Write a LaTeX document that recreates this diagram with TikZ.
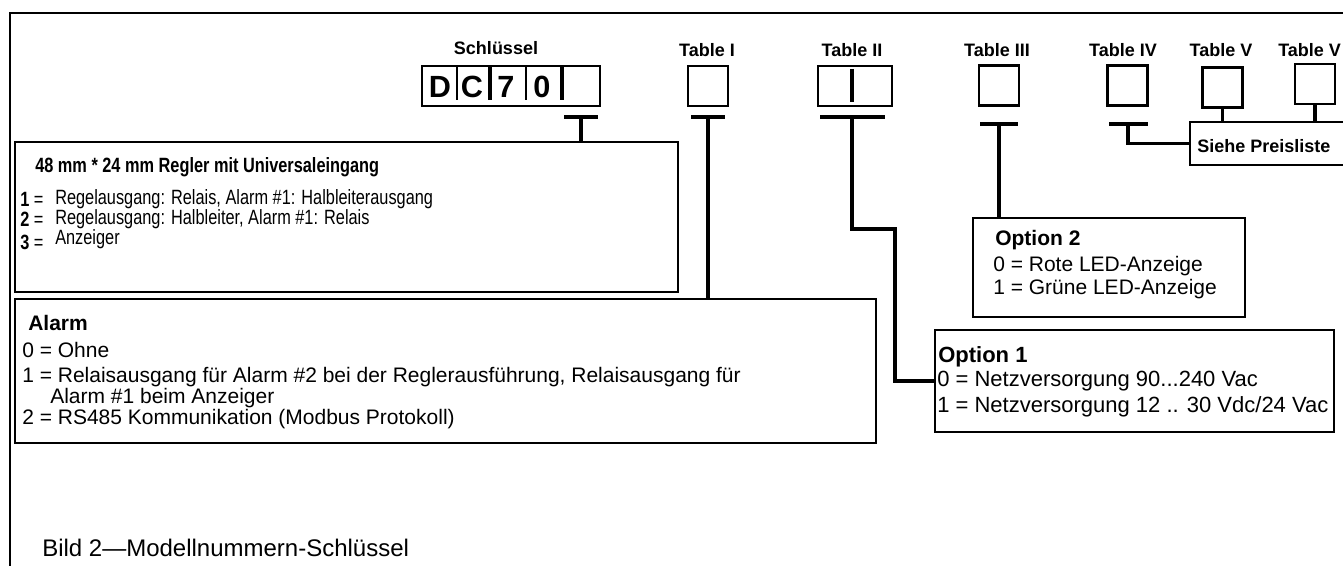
\documentclass[tikz,border=0pt]{standalone}
\usepackage{fontspec}
\setmainfont{Liberation Sans}
\newfontfamily\narrowfont[FakeStretch=0.79]{Liberation Sans}
\usetikzlibrary{positioning,calc}

\begin{document}
\begin{tikzpicture}[x=0.75pt,y=-0.75pt,
    cell/.style    = {rectangle, draw, line width=2pt, minimum width=30pt,
        minimum height=30pt, inner sep=0pt},
    head/.style    = {inner sep=0pt, font=\fontsize{13.5pt}{16pt}\selectfont\bfseries},
    digit/.style   = {inner sep=0pt, font=\fontsize{23pt}{26pt}\selectfont\bfseries},
    tbar/.style    = {rectangle, fill=black, minimum width=25.5pt,
        minimum height=3pt, inner sep=0pt},
    stem/.style    = {line width=2.6pt},
    descbox/.style = {rectangle, draw, line width=2.2pt, inner sep=0pt},
    txt/.style     = {anchor=west, inner sep=0pt,
        font=\fontsize{15.75pt}{18pt}\selectfont},
    ttl/.style     = {txt, font=\fontsize{15.75pt}{18pt}\selectfont\bfseries},
    narrow/.style  = {txt, font=\narrowfont\fontsize{15.5pt}{17pt}\selectfont},
  ]
    \useasboundingbox (0,0) rectangle (1343,566);
    % ── Rahmen ───────────────────────────────────────────────────
    \draw[line width=2.2pt] (10,580) -- (10,13) -- (1360,13);

    % ── Schlüssel DC70 ───────────────────────────────────────────
    \node[cell, minimum width=133.5pt] (key) at (511,86) {};
    \node[head] (lKey) at (496,48) {Schlüssel};
    \foreach \xx/\ch in {440/D,472/C,506/7,542/0}
      \node[digit] (d\ch) at (\xx,87) {\ch};
    \foreach \xx/\lw in {457/1.2pt,490/2.4pt,526/1.2pt,562/2.4pt}
      \draw[line width=\lw] (\xx,67) -- (\xx,100);

    % ── Tabellenfelder ───────────────────────────────────────────
    \node[cell]                      (tI)   at (708,86)     {};
    \node[cell, minimum width=55.5pt] (tII) at (855,86)     {};
    \node[cell]                      (tIII) at (999,85.5)   {};
    \node[cell]                      (tIV)  at (1127.5,85.5){};
    \node[cell]                      (tV)   at (1222.5,87.5){};
    \node[cell]                      (tVI)  at (1315,84)    {};
    \draw[line width=2.4pt] (852,69) -- (852,102);

    \node[head] (lI)   at (707,50)  {Table I};
    \node[head] (lII)  at (852,50)  {Table II};
    \node[head] (lIII) at (997,50)  {Table III};
    \node[head] (lIV)  at (1123,50) {Table IV};
    \node[head] (lV)   at (1221,50) {Table V};
    \node[head, anchor=west] (lVI) at (1278,50) {Table V};

    % ── T-Balken ─────────────────────────────────────────────────
    \node[tbar]                       (bKey) at (581,117)   {};
    \node[tbar]                       (bI)   at (708,117)   {};
    \node[tbar, minimum width=48.75pt] (bII) at (852,117)   {};
    \node[tbar, minimum width=28.5pt]  (bIII) at (999,124)  {};
    \node[tbar, minimum width=29.25pt] (bIV) at (1128,124)  {};

    % ── Beschreibungsfelder ──────────────────────────────────────
    \node[descbox, minimum width=497.25pt, minimum height=112.5pt] (typ)   at (346.5,217) {};
    \node[descbox, minimum width=645.75pt, minimum height=108pt]   (alarm) at (445.5,371) {};
    \node[descbox, minimum width=204pt,    minimum height=74.25pt] (opt2)  at (1109,267.5) {};
    \node[descbox, minimum width=299.25pt, minimum height=76.5pt]  (opt1)  at (1134.5,381) {};
    \node[descbox, minimum width=150pt,    minimum height=32.25pt] (preis) at (1290,143.5) {};

    % ── Verbindungen ─────────────────────────────────────────────
    \coordinate (kII) at (895,229);
    \draw[stem] (bKey.center) -- (bKey.center |- typ.north);
    \draw[stem] (bI.center)   -- (bI.center |- alarm.north);
    \draw[stem] (bII.center)  |- (kII) |- (opt1.west);
    \draw[stem] (bIII.center) -- (bIII.center |- opt2.north);
    \draw[stem] (bIV.center)  |- (preis.west);
    \draw[stem] (tV.south)    -- (tV.south |- preis.north);
    \draw[stem] (tVI.south)   -- (tVI.south |- preis.north);

    % ── Texte ────────────────────────────────────────────────────
    \node[narrow, font=\narrowfont\fontsize{15.5pt}{17pt}\selectfont\bfseries] (typT) at (35,167)
        {48 mm * 24 mm Regler mit Universaleingang};
    \node[narrow] (n1) at (20,199) {\textbf{1} =};
    \node[narrow] (t1) at (55,199) {Regelausgang: Relais, Alarm \#1: Halbleiterausgang};
    \node[narrow] (n2) at (20,219) {\textbf{2} =};
    \node[narrow] (t2) at (55,219) {Regelausgang: Halbleiter, Alarm \#1: Relais};
    \node[narrow] (n3) at (20,242) {\textbf{3} =};
    \node[narrow] (t3) at (55,239) {Anzeiger};

    \node[ttl] (alT) at (28,323) {Alarm};
    \node[txt] (a0)  at (22,350) {0 = Ohne};
    \node[txt] (a1)  at (22,377) {1 = Relaisausgang für Alarm \#2 bei der Reglerausführung, Relaisausgang für};
    \node[txt] (a1b) at (50,398) {Alarm \#1 beim Anzeiger};
    \node[txt] (a2)  at (22,419) {2 = RS485 Kommunikation (Modbus Protokoll)};

    \node[ttl] (o2T) at (995,240) {Option 2};
    \node[txt] (o20) at (993,266) {0 = Rote LED-Anzeige};
    \node[txt] (o21) at (993,289) {1 = Grüne LED-Anzeige};

    \node[ttl, font=\fontsize{16.5pt}{19pt}\selectfont\bfseries] (o1T) at (938,357) {Option 1};
    \node[txt, font=\fontsize{16.5pt}{19pt}\selectfont] (o10) at (937,381) {0 = Netzversorgung 90...240 Vac};
    \node[txt, font=\fontsize{16.5pt}{19pt}\selectfont] (o11) at (937,407) {1 = Netzversorgung 12 .. 30 Vdc/24 Vac};

    \node[ttl, font=\fontsize{13.5pt}{16pt}\selectfont\bfseries] (prT) at (1197,146) {Siehe Preisliste};

    \node[txt, font=\fontsize{18pt}{21pt}\selectfont] (cap) at (42,548) {Bild 2—Modellnummern-Schlüssel};
  \end{tikzpicture}
\end{document}
